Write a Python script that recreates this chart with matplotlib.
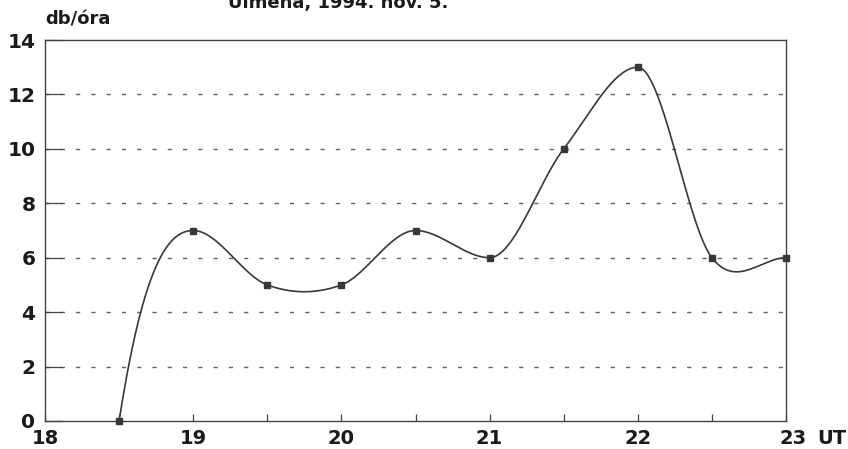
import numpy as np
import matplotlib
matplotlib.use('Agg')
import matplotlib.pyplot as plt
from matplotlib.transforms import ScaledTranslation

# 观测数据 (UT 时间, 每小时数)
hours = [18.5, 19.0, 19.5, 20.0, 20.5, 21.0, 21.5, 22.0, 22.5, 23.0]
rate = [0, 7, 5, 5, 7, 6, 10, 13, 6, 6]

x_ticks = [18, 19, 20, 21, 22, 23]
y_ticks = [0, 2, 4, 6, 8, 10, 12, 14]
grid_levels = [2, 4, 6, 8, 10, 12]
minor_ticks = [18.5, 19.5, 20.5, 21.5, 22.5]


def smooth_curve(x, y, n=60):
    """Hermite 平滑曲线: 极值点切线为水平, 其余取两侧斜率平均"""
    x = np.asarray(x, float)
    y = np.asarray(y, float)
    d = np.diff(y) / np.diff(x)
    m = np.zeros(len(x))
    for i in range(1, len(x) - 1):
        if d[i - 1] * d[i] < 0:
            m[i] = 0
        else:
            m[i] = (d[i - 1] + d[i]) / 2
    m[0] = 2.5 * d[0]
    m[-1] = d[-1]
    xs_all, ys_all = [], []
    for i in range(len(x) - 1):
        h = x[i + 1] - x[i]
        t = np.linspace(0, 1, n)
        h00 = 2 * t ** 3 - 3 * t ** 2 + 1
        h10 = t ** 3 - 2 * t ** 2 + t
        h01 = -2 * t ** 3 + 3 * t ** 2
        h11 = t ** 3 - t ** 2
        xs_all.append(x[i] + t * h)
        ys_all.append(h00 * y[i] + h10 * h * m[i] + h01 * y[i + 1] + h11 * h * m[i + 1])
    return np.concatenate(xs_all), np.concatenate(ys_all)


plt.rcParams['font.family'] = ['DejaVu Sans']

fig = plt.figure(figsize=(8.48, 4.49), dpi=100)
ax = fig.add_axes([45 / 848, 1 - 421 / 449, (786 - 45) / 848, (421 - 40) / 449])

# 网格虚线
for g in grid_levels:
    ax.axhline(g, color='#606060', lw=1.0, dashes=[3, 8], zorder=1)

# 平滑曲线和数据点
xs, ys = smooth_curve(hours, rate)
ax.plot(xs, ys, color='#383838', lw=1.2, zorder=3)
ax.plot(hours, rate, ls='none', marker='s', ms=4.5, color='#383838', zorder=4, clip_on=False)

ax.set_xlim(18, 23)
ax.set_ylim(0, 14)
ax.set_xticks(x_ticks)
ax.set_yticks(y_ticks)
ax.set_xticks(minor_ticks, minor=True)

ax.tick_params(axis='x', which='both', direction='in', length=5, width=0.9, color='#444444')
ax.tick_params(axis='x', which='major', labelsize=14, pad=6)
ax.tick_params(axis='y', which='major', direction='in', length=12, width=0.9,
               labelsize=14.5, pad=7, color='#444444')
for lab in ax.get_xticklabels() + ax.get_yticklabels():
    lab.set_fontweight('bold')
    lab.set_color('#1a1a1a')

# "23" 稍微右移
last = ax.get_xticklabels()[-1]
last.set_transform(last.get_transform() + ScaledTranslation(7 / 100, 0, fig.dpi_scale_trans))

for sp in ax.spines.values():
    sp.set_color('#444444')
    sp.set_linewidth(1.0)

# 轴标签
fig.text(45 / 848, 1 - 25 / 449, 'db/óra', fontsize=13, fontweight='bold',
         color='#1a1a1a', ha='left', va='baseline')
fig.text(817 / 848, 1 - 429 / 449, 'UT', fontsize=14, fontweight='bold',
         color='#1a1a1a', ha='left', va='top')

# 被截掉的标题
fig.text(338 / 848, 1 - 8 / 449, 'Ulmena, 1994. nov. 5.', fontsize=13, fontweight='bold',
         color='#1a1a1a', ha='center', va='baseline')

fig.savefig('out.png', dpi=100, facecolor='white')
